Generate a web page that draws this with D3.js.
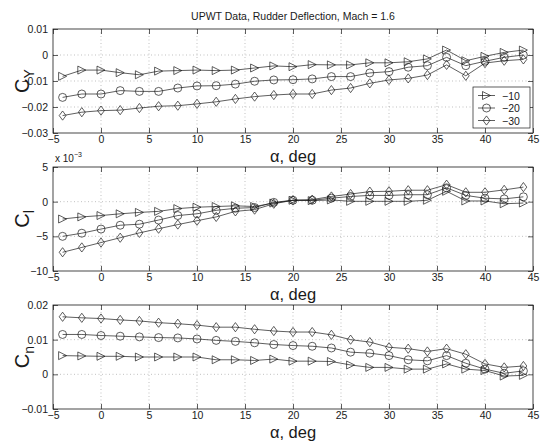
<!DOCTYPE html>
<html><head><meta charset="utf-8">
<script src="https://cdn.jsdelivr.net/npm/d3@7"></script>
<style>body{margin:0;background:#fff}svg{display:block;font-family:"Liberation Sans",Arial,Helvetica,sans-serif}</style>
</head><body>
<script>
const alpha = [-4,-2,0,2,4,6,8,10,12,14,16,18,20,22,24,26,28,30,32,34,36,38,40,42,44];
const seriesNames = ["\u221210","\u221220","\u221230"];
const xTicks = [-5,0,5,10,15,20,25,30,35,40,45];

const cyM10 = [-0.0082,-0.0058,-0.0058,-0.0068,-0.0076,-0.0062,-0.0060,-0.0058,-0.0060,-0.0058,-0.0050,-0.0042,-0.0045,-0.0037,-0.0038,-0.0038,-0.0030,-0.0030,-0.0026,-0.0015,0.0019,-0.0022,-0.0005,0.0010,0.0019];
const cyM20 = [-0.0163,-0.0150,-0.0150,-0.0137,-0.0140,-0.0140,-0.0127,-0.0119,-0.0118,-0.0112,-0.0101,-0.0096,-0.0095,-0.0092,-0.0083,-0.0083,-0.0069,-0.0064,-0.0047,-0.0041,-0.0009,-0.0041,-0.0024,-0.0009,0.0000];
const cyM30 = [-0.0233,-0.0220,-0.0214,-0.0212,-0.0204,-0.0197,-0.0195,-0.0188,-0.0180,-0.0169,-0.0160,-0.0154,-0.0150,-0.0150,-0.0135,-0.0127,-0.0109,-0.0096,-0.0090,-0.0077,-0.0038,-0.0080,-0.0031,-0.0022,-0.0017];

const clM10 = [-2.5,-2.2,-2.0,-1.75,-1.55,-1.4,-1.0,-0.8,-0.7,-0.6,-0.7,-0.2,0.2,0.15,0.25,0.05,0.05,0.05,0.05,0.2,1.5,0.1,0.1,-0.3,-0.2];
const clM20 = [-5.0,-4.55,-3.95,-3.4,-3.25,-2.65,-2.0,-1.75,-1.25,-0.95,-0.85,-0.1,0.2,0.2,0.5,0.75,0.9,0.9,1.0,1.0,2.0,0.9,0.5,0.4,0.7];
const clM30 = [-7.3,-6.6,-5.9,-5.2,-4.5,-3.9,-3.3,-2.75,-2.2,-1.4,-1.15,-0.3,0.2,0.3,0.75,1.1,1.45,1.5,1.65,1.65,2.45,1.35,1.35,1.7,2.1];

const cnM10 = [0.0054,0.0053,0.0052,0.0052,0.0050,0.0050,0.0050,0.0050,0.0042,0.0042,0.0040,0.0044,0.0038,0.0038,0.0037,0.0027,0.0020,0.0020,0.0015,0.0015,0.0030,0.0015,0.0011,-0.0005,-0.0003];
const cnM20 = [0.0115,0.0115,0.0112,0.0110,0.0108,0.0106,0.0105,0.0102,0.0098,0.0095,0.0091,0.0086,0.0083,0.0081,0.0076,0.0064,0.0061,0.0054,0.0042,0.0039,0.0054,0.0032,0.0015,0.0003,0.0010];
const cnM30 = [0.0166,0.0163,0.0161,0.0157,0.0154,0.0149,0.0146,0.0142,0.0136,0.0136,0.0130,0.0125,0.0122,0.0122,0.0114,0.0100,0.0093,0.0078,0.0074,0.0066,0.0074,0.0058,0.0030,0.0020,0.0024];

const cyTicks = [0.01,0,-0.01,-0.02,-0.03];
const cyTickLabels = ["0.01","0","\u22120.01","\u22120.02","\u22120.03"];
const clTicks = [5,0,-5,-10];
const clTickLabels = ["5","0","\u22125","\u221210"];
const cnTicks = [0.02,0.01,0,-0.01];
const cnTickLabels = ["0.02","0.01","0","\u22120.01"];
const xTickLabels = ["\u22125","0","5","10","15","20","25","30","35","40","45"];

const W = 541, H = 441;
const svg = d3.select("body").append("svg").attr("width", W).attr("height", H);
const L = 53, R = 533, PH = 104;
const x = d3.scaleLinear().domain([-5,45]).range([L,R]);
const ink = "#1a1a1a";

const markers = {
  tri: r => `M${r},0L${-r},${-r}L${-r},${r}Z`,
  circ: r => d3.symbol(d3.symbolCircle, Math.PI*r*r)(),
  dia: r => `M0,${-r*1.15}L${r*0.85},0L0,${r*1.15}L${-r*0.85},0Z`
};
const mkKeys = ["tri","circ","dia"];

svg.append("text").attr("x",(L+R)/2).attr("y",20).attr("text-anchor","middle")
  .attr("font-size",10.5).attr("fill",ink).text("UPWT Data, Rudder Deflection,  Mach = 1.6");

function panel(top, domain, ticks, tickLabels, series, ylab, ysub, exponent, legend) {
  const y = d3.scaleLinear().domain(domain).range([top+PH, top]);
  const g = svg.append("g");
  xTicks.slice(1,-1).forEach(t => g.append("line").attr("x1",x(t)).attr("x2",x(t)).attr("y1",top).attr("y2",top+PH)
    .attr("stroke","#999").attr("stroke-width",0.6).attr("stroke-dasharray","1,2.5"));
  ticks.forEach(t => { if (t!==domain[0] && t!==domain[1]) g.append("line").attr("x1",L).attr("x2",R).attr("y1",y(t)).attr("y2",y(t))
    .attr("stroke","#999").attr("stroke-width",0.6).attr("stroke-dasharray","1,2.5"); });
  g.append("rect").attr("x",L).attr("y",top).attr("width",R-L).attr("height",PH).attr("fill","none").attr("stroke",ink).attr("stroke-width",0.8);
  const axB = g.append("g").attr("transform",`translate(0,${top+PH})`)
    .call(d3.axisBottom(x).tickValues(xTicks).tickSize(-5).tickPadding(3).tickFormat((d,i)=>xTickLabels[i]));
  const axT = g.append("g").attr("transform",`translate(0,${top})`)
    .call(d3.axisTop(x).tickValues(xTicks).tickSize(-5).tickFormat(""));
  const axL = g.append("g").attr("transform",`translate(${L},0)`)
    .call(d3.axisLeft(y).tickValues(ticks).tickSize(-5).tickPadding(5).tickFormat((d,i)=>tickLabels[i]));
  const axR = g.append("g").attr("transform",`translate(${R},0)`)
    .call(d3.axisRight(y).tickValues(ticks).tickSize(-5).tickFormat(""));
  [axB,axT,axL,axR].forEach(a => {
    a.select(".domain").remove();
    a.selectAll("line").attr("stroke",ink).attr("stroke-width",0.7);
    a.selectAll("text").attr("font-size",10.5).attr("fill",ink).attr("font-family","Liberation Sans, Arial, sans-serif");
  });
  axB.selectAll("text").attr("dy","0.71em");
  series.forEach((vals,si) => {
    const data = alpha.map((a,i)=>[a,vals[i]]);
    g.append("path").datum(data).attr("d", d3.line().x(d=>x(d[0])).y(d=>y(d[1])))
      .attr("fill","none").attr("stroke",ink).attr("stroke-width",0.7);
    g.selectAll(null).data(data).enter().append("path")
      .attr("transform",d=>`translate(${x(d[0])},${y(d[1])})`)
      .attr("d", markers[mkKeys[si]](4))
      .attr("fill","none").attr("stroke",ink).attr("stroke-width",0.7);
  });
  const yl = g.append("text").attr("transform",`translate(29,${top+PH/2}) rotate(-90)`)
    .attr("text-anchor","middle").attr("font-size",20).attr("fill",ink);
  yl.append("tspan").text("C");
  yl.append("tspan").attr("font-size",14).attr("dy",5).text(ysub);
  g.append("text").attr("x",(L+R)/2).attr("y",top+PH+29).attr("text-anchor","middle")
    .attr("font-size",16.5).attr("fill",ink).text("\u03b1, deg");
  if (exponent) {
    const ex = g.append("text").attr("x",L+2).attr("y",top-5).attr("font-size",10).attr("fill",ink);
    ex.append("tspan").text("x 10");
    ex.append("tspan").attr("font-size",7).attr("dy",-5).text("\u22123");
  }
  if (legend) {
    const lx = 473, ly = 87, lw = 57, lh = 41;
    const lg = g.append("g");
    lg.append("rect").attr("x",lx).attr("y",ly).attr("width",lw).attr("height",lh).attr("fill","#fff").attr("stroke",ink).attr("stroke-width",0.7);
    seriesNames.forEach((nm,i) => {
      const yy = ly + 8.5 + i*12.5;
      lg.append("line").attr("x1",lx+5).attr("x2",lx+22).attr("y1",yy).attr("y2",yy).attr("stroke",ink).attr("stroke-width",0.7);
      lg.append("path").attr("transform",`translate(${lx+13.5},${yy})`).attr("d",markers[mkKeys[i]](4))
        .attr("fill","none").attr("stroke",ink).attr("stroke-width",0.7);
      lg.append("text").attr("x",lx+29).attr("y",yy+4).attr("font-size",10.5).attr("fill",ink).text(nm);
    });
  }
}

panel(29, [-0.03,0.01], cyTicks, cyTickLabels, [cyM10,cyM20,cyM30], "C", "Y", false, true);
panel(167, [-10,5], clTicks, clTickLabels, [clM10,clM20,clM30], "C", "l", true, false);
panel(305, [-0.01,0.02], cnTicks, cnTickLabels, [cnM10,cnM20,cnM30], "C", "n", false, false);
</script>
</body></html>
